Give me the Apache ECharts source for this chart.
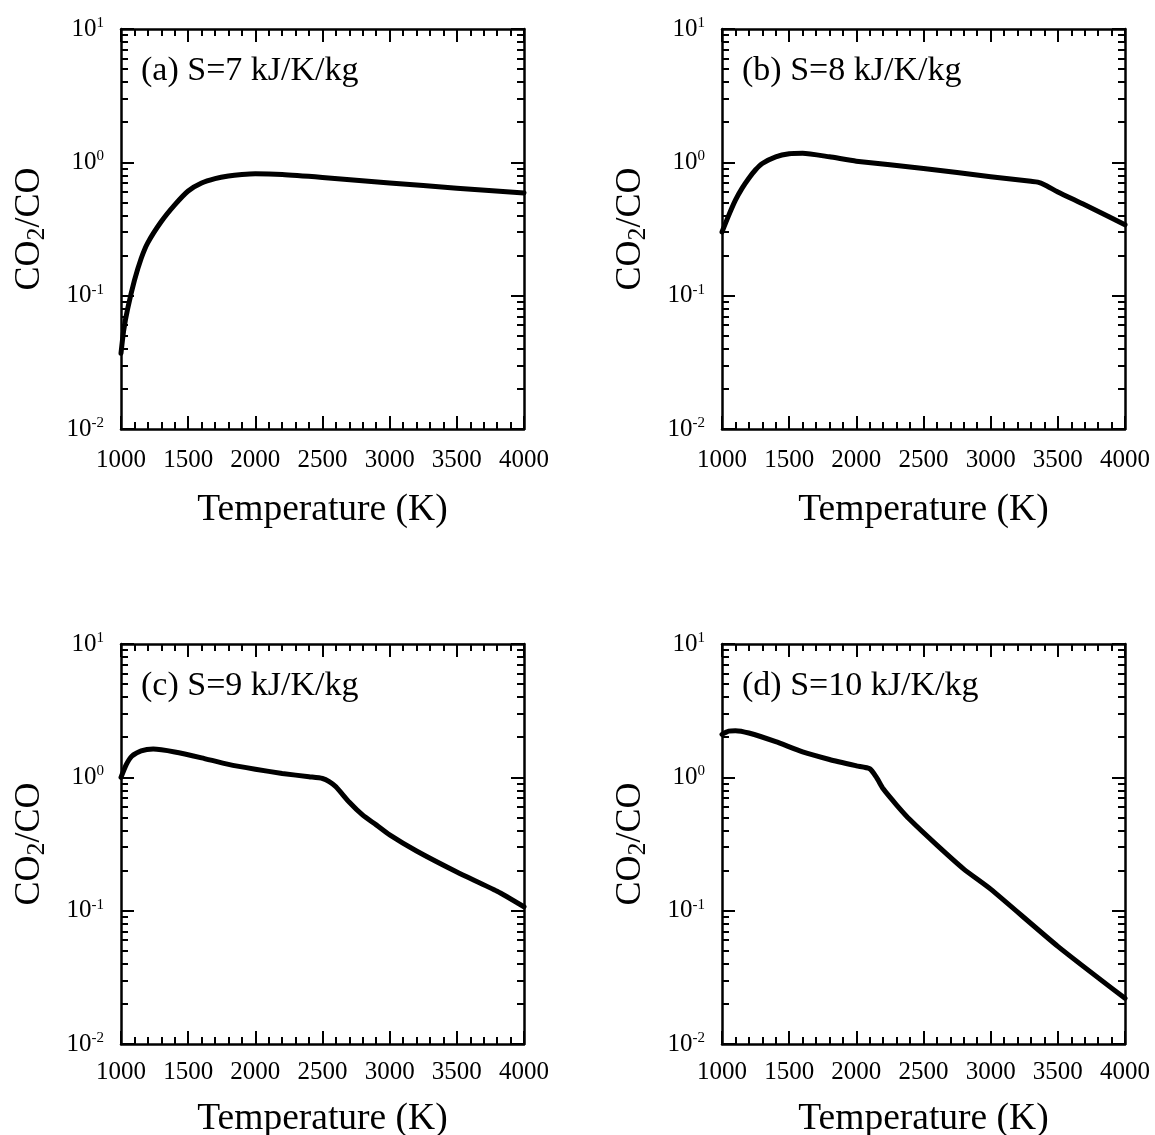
<!DOCTYPE html>
<html><head><meta charset="utf-8">
<script src="https://cdn.jsdelivr.net/npm/echarts@6/dist/echarts.min.js"></script>
<style>html,body{margin:0;padding:0;background:#fff}#c{width:1155px;height:1135px}</style>
</head><body><div id="c"></div>
<script>
// ---- data ----
const panelLabels = ['(a) S=7 kJ/K/kg', '(b) S=8 kJ/K/kg', '(c) S=9 kJ/K/kg', '(d) S=10 kJ/K/kg'];
const xName = 'Temperature (K)';
const yNameParts = ['CO', '2', '/CO'];
const yMinorTicks = [0.02,0.03,0.04,0.05,0.06,0.07,0.08,0.09,0.2,0.3,0.4,0.5,0.6,0.7,0.8,0.9,2,3,4,5,6,7,8,9];

const tA = [1000,1020,1050,1100,1150,1200,1300,1400,1500,1600,1700,1800,1900,2000,2200,2500,3000,3500,4000];
const rA = [0.037,0.055,0.08,0.13,0.19,0.25,0.36,0.48,0.61,0.70,0.755,0.79,0.81,0.82,0.81,0.77,0.70,0.64,0.59];

const tB = [1000,1050,1100,1150,1200,1250,1300,1400,1500,1600,1800,2000,2500,3000,3300,3350,3400,3500,3700,4000];
const rB = [0.30,0.40,0.52,0.64,0.76,0.88,0.98,1.10,1.16,1.17,1.10,1.02,0.90,0.78,0.72,0.71,0.68,0.60,0.48,0.34];

const tC = [1000,1040,1080,1150,1240,1400,1600,1800,2000,2200,2400,2500,2550,2600,2700,2800,2900,3000,3200,3500,3800,4000];
const rC = [1.0,1.25,1.44,1.58,1.63,1.55,1.40,1.25,1.15,1.07,1.01,0.98,0.93,0.85,0.65,0.52,0.44,0.37,0.28,0.195,0.14,0.107];

const tD = [1000,1050,1100,1200,1400,1600,1800,2000,2100,2150,2200,2300,2400,2600,2800,3000,3500,4000];
const rD = [2.10,2.22,2.24,2.15,1.85,1.55,1.36,1.22,1.16,1.00,0.82,0.62,0.48,0.31,0.205,0.145,0.054,0.022];

const temps = [tA, tB, tC, tD];
const ratios = [rA, rB, rC, rD];

// ---- chart ----
const FONT = '"Liberation Serif","Times New Roman",serif';
const gridPos = [[121,29],[722,29],[121,644],[722,644]];
const W = 403, H = 400;
const lineSt = {color:'#000', width:2.5};
const tickSt = {color:'#000', width:2};

const grid = [], xAxis = [], yAxis = [], series = [], title = [];
gridPos.forEach(function(p, i){
  const bottomRow = i >= 2;
  grid.push({left:p[0], top:p[1], width:W, height:H, containLabel:false, outerBoundsMode:'none'});
  const xBase = {
    type:'value', gridIndex:i, min:1000, max:4000, interval:500,
    axisLine:{show:true, onZero:false, lineStyle:lineSt},
    axisTick:{show:true, inside:true, length:13, lineStyle:tickSt},
    minorTick:{show:true, splitNumber:5, length:7, lineStyle:tickSt},
    splitLine:{show:false}, minorSplitLine:{show:false}
  };
  xAxis.push(Object.assign({}, xBase, {
    position:'bottom',
    axisLabel:{show:true, fontFamily:FONT, fontSize:25, color:'#000', margin: bottomRow ? 16 : 19,
      formatter:function(v){ return String(v); }},
    name:xName, nameLocation:'middle', nameGap: bottomRow ? 56 : 62,
    nameTextStyle:{fontFamily:FONT, fontSize:37.5, color:'#000'}
  }));
  xAxis.push(Object.assign({}, xBase, {position:'top', axisLabel:{show:false}}));

  const yBase = {
    type:'log', logBase:10, gridIndex:i, min:0.01, max:10,
    splitLine:{show:false}, minorSplitLine:{show:false}
  };
  yAxis.push(Object.assign({}, yBase, {
    position:'left',
    axisLine:{show:true, onZero:false, lineStyle:lineSt},
    axisTick:{show:true, inside:true, length:13, lineStyle:tickSt},
    axisLabel:{show:true, margin:17, color:'#000', fontFamily:FONT, fontSize:25,
      formatter:function(v){ return '{b|10}{s|' + Math.round(Math.log10(v)) + '}'; },
      rich:{
        b:{fontFamily:FONT, fontSize:25, color:'#000', lineHeight:27},
        s:{fontFamily:FONT, fontSize:15, color:'#000', lineHeight:27, verticalAlign:'top'}
      }},
    name:'{a|' + yNameParts[0] + '}{s|' + yNameParts[1] + '}{a|' + yNameParts[2] + '}',
    nameLocation:'middle', nameGap:71,
    nameTextStyle:{fontFamily:FONT, fontSize:36, color:'#000',
      rich:{
        a:{fontFamily:FONT, fontSize:36, color:'#000', lineHeight:40},
        s:{fontFamily:FONT, fontSize:26, color:'#000', lineHeight:40, verticalAlign:'bottom'}
      }}
  }));
  yAxis.push(Object.assign({}, yBase, {
    position:'left', axisLine:{show:false},
    axisTick:{show:true, inside:true, length:7, lineStyle:tickSt, customValues:yMinorTicks},
    axisLabel:{show:false}
  }));
  yAxis.push(Object.assign({}, yBase, {
    position:'right',
    axisLine:{show:true, onZero:false, lineStyle:lineSt},
    axisTick:{show:true, inside:true, length:13, lineStyle:tickSt},
    axisLabel:{show:false}
  }));
  yAxis.push(Object.assign({}, yBase, {
    position:'right', axisLine:{show:false},
    axisTick:{show:true, inside:true, length:7, lineStyle:tickSt, customValues:yMinorTicks},
    axisLabel:{show:false}
  }));

  series.push({
    type:'line', xAxisIndex:i*2, yAxisIndex:i*4,
    data: temps[i].map(function(t, k){ return [t, ratios[i][k]]; }),
    showSymbol:false, symbol:'none', smooth:0.2,
    lineStyle:{color:'#000', width:5, cap:'round', join:'round'},
    clip:true, silent:true, animation:false
  });

  title.push({
    text: panelLabels[i], left: p[0] + 20, top: p[1] + 25, padding:0,
    textStyle:{fontFamily:FONT, fontSize:34, fontWeight:'normal', color:'#000'}
  });
});

const chart = echarts.init(document.getElementById('c'), null, {renderer:'canvas'});
chart.setOption({
  backgroundColor:'#fff', animation:false,
  title:title, grid:grid, xAxis:xAxis, yAxis:yAxis, series:series
});
</script>
</body></html>
